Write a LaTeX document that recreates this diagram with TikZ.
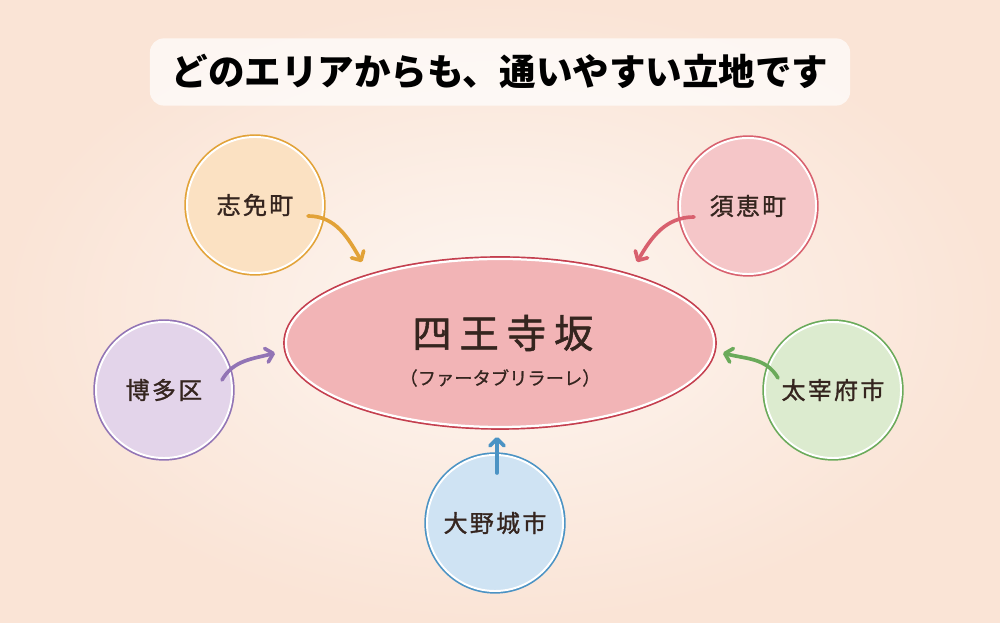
\documentclass[tikz,border=0pt]{standalone}
\usepackage{xcolor}
\usepackage{fontspec}
\usepackage{tikz}
\usetikzlibrary{shapes.geometric, arrows.meta, positioning, calc}

\newfontfamily\jpfont{Noto Sans CJK JP}
\newfontfamily\jpkana[FakeBold=0.8]{Noto Sans CJK JP}
\newfontfamily\jpspaced[LetterSpace=10, FakeBold=1.2]{Noto Sans CJK JP}
\newfontfamily\jpwide[LetterSpace=20, FakeBold=1.2]{Noto Sans CJK JP}

\definecolor{ink}{HTML}{35251F}
\definecolor{bgin}{HTML}{FDF6F1}
\definecolor{bgout}{HTML}{FAE4D6}
\definecolor{shimefill}{HTML}{FBE1C2}
\definecolor{shimeline}{HTML}{E2A237}
\definecolor{suefill}{HTML}{F5C6C8}
\definecolor{sueline}{HTML}{D8606E}
\definecolor{hakatafill}{HTML}{E3D4EA}
\definecolor{hakataline}{HTML}{9274B5}
\definecolor{dazaifufill}{HTML}{DCEBCF}
\definecolor{dazaifuline}{HTML}{6AAA5A}
\definecolor{onojofill}{HTML}{CFE3F3}
\definecolor{onojoline}{HTML}{4B93C4}
\definecolor{spotfill}{HTML}{F2B4B6}
\definecolor{spotline}{HTML}{C43E4E}

\begin{document}
\begin{tikzpicture}[x=0.025cm, y=0.025cm, ->, >={Straight Barb[round, length=5pt, width=10pt]}, line cap=round]
		\tikzstyle{feed}=[line width=2.6pt]
		\tikzset{area/.style={circle, minimum size=3.4cm, inner sep=0pt, draw=white, line width=1.4pt, fill=#1fill, preaction={draw=#1line, line width=3.8pt}, text=ink, font=\jpspaced\fontsize{17pt}{20pt}\selectfont}}

		\useasboundingbox (0,0) rectangle (1000,623);
		\shade[inner color=bgin, outer color=bgout] (0,0) rectangle (1000,623);

		\node[fill=white, fill opacity=0.7, text opacity=1, rounded corners=0.35cm, minimum width=17.5cm, minimum height=1.68cm, text=black, font=\jpfont\bfseries\fontsize{26pt}{30pt}\selectfont] (title) at (500,551) {どのエリアからも、通いやすい立地です};

		\node[ellipse, minimum width=10.7cm, minimum height=4.2cm, fill=spotfill, draw=white, line width=1.6pt, preaction={draw=spotline, line width=4pt}] (spot) at (500,280) {};
		\node[text=ink, font=\jpwide\fontsize{28pt}{32pt}\selectfont, xshift=2pt] (spotname) at (500,290) {四王寺坂};
		\node[text=ink, font=\jpkana\fontsize{13pt}{15pt}\selectfont] (spotkana) at (500,245) {（ファータブリラーレ）};

		\node[area=shime] (shime) at (255,418) {志免町};
		\node[area=sue] (sue) at (748,417) {須恵町};
		\node[area=hakata] (hakata) at (164,233) {博多区};
		\node[area=dazaifu] (dazaifu) at (833,233) {太宰府市};
		\node[area=onojo] (onojo) at (495,100) {大野城市};

		\path
		($(shime)+(53,-11)$) edge [feed, shimeline, out=0, in=120] ($(spot)+(-138,81)$)
		($(sue)+(-54,-11)$) edge [feed, sueline, out=180, in=60] ($(spot)+(137,81)$)
		($(hakata)+(58,10)$) edge [feed, hakataline, out=60, in=195] ($(spot)+(-225,-10)$)
		($(dazaifu)+(-55,12)$) edge [feed, dazaifuline, out=120, in=-15] ($(spot)+(223,-10)$)
		($(onojo)+(2,50)$) edge [feed, onojoline] ($(spot)+(-3,-94)$);
	\end{tikzpicture}
\end{document}
